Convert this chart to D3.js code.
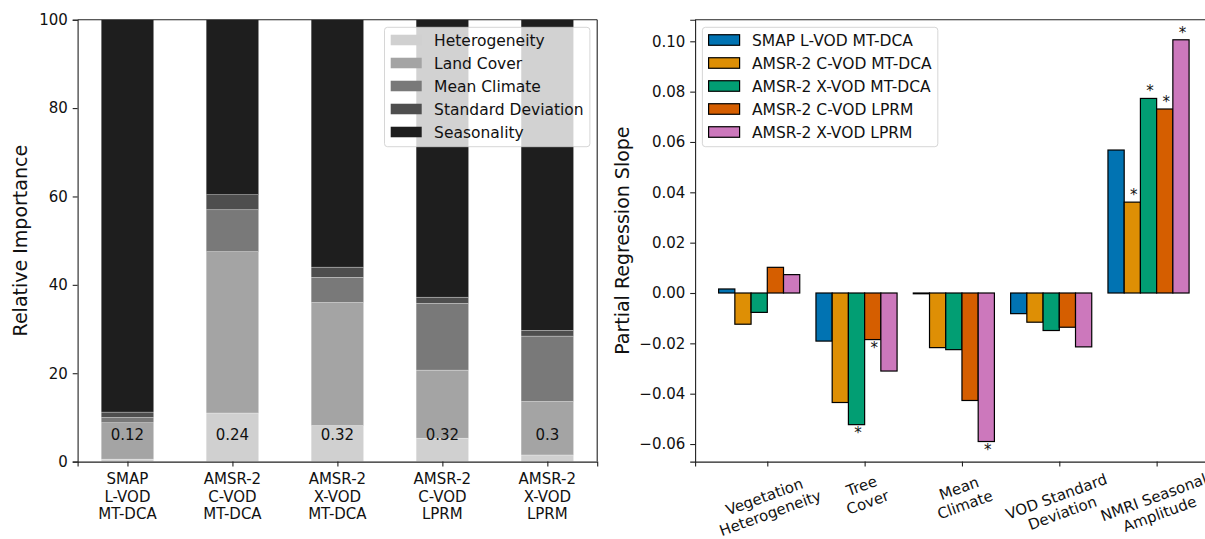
<!DOCTYPE html>
<html>
<head>
<meta charset="utf-8">
<script src="https://cdn.jsdelivr.net/npm/d3@7"></script>
<style>
  html, body { margin: 0; padding: 0; background: #fff; }
  svg { display: block; font-family: "DejaVu Sans", sans-serif; }
</style>
</head>
<body>
<svg id="fig" width="1205" height="539"></svg>
<script>
// ---- Relative importance of each factor group, per VOD product ----
const products = ["SMAP\nL-VOD\nMT-DCA", "AMSR-2\nC-VOD\nMT-DCA", "AMSR-2\nX-VOD\nMT-DCA", "AMSR-2\nC-VOD\nLPRM", "AMSR-2\nX-VOD\nLPRM"];
const factors = ["Heterogeneity", "Land Cover", "Mean Climate", "Standard Deviation", "Seasonality"];
const heterogeneity = [0.55, 11.0, 8.15, 5.3, 1.5];
const landCover     = [8.25, 36.5, 27.85, 15.4, 12.1];
const meanClimate   = [1.2, 9.5, 5.7, 15.1, 14.8];
const standardDev   = [1.2, 3.4, 2.3, 1.4, 1.3];
const seasonality   = [88.8, 39.6, 56.0, 62.8, 70.3];
const r2Scores      = [0.12, 0.24, 0.32, 0.32, 0.3];
const importanceTicks = [0, 20, 40, 60, 80, 100];

// ---- Partial regression slopes per driver, per VOD dataset ----
const drivers = ["Vegetation\nHeterogeneity", "Tree\nCover", "Mean\nClimate", "VOD Standard\nDeviation", "NMRI Seasonal\nAmplitude"];
const datasets = ["SMAP L-VOD MT-DCA", "AMSR-2 C-VOD MT-DCA", "AMSR-2 X-VOD MT-DCA", "AMSR-2 C-VOD LPRM", "AMSR-2 X-VOD LPRM"];
const slopeSmapL     = [0.0016, -0.0191, -0.0003, -0.0082, 0.0568];
const slopeAmsrCMt   = [-0.0124, -0.0435, -0.0217, -0.0116, 0.0361];
const slopeAmsrXMt   = [-0.0077, -0.0523, -0.0225, -0.0149, 0.0773];
const slopeAmsrCLprm = [0.0102, -0.0185, -0.0427, -0.0136, 0.0731];
const slopeAmsrXLprm = [0.0073, -0.0310, -0.0590, -0.0214, 0.1006];
const sigSmapL     = [false, false, false, false, false];
const sigAmsrCMt   = [false, false, false, false, true];
const sigAmsrXMt   = [false, true, false, false, true];
const sigAmsrCLprm = [false, true, false, false, true];
const sigAmsrXLprm = [false, false, true, false, true];
const slopeTicks = [-0.06, -0.04, -0.02, 0.00, 0.02, 0.04, 0.06, 0.08, 0.10];

const greys = ["#d0d0d0", "#a4a4a4", "#797979", "#4e4e4e", "#1e1e1e"];
const palette = ["#0173b2", "#de8f05", "#029e73", "#d55e00", "#cc78bc"];

const FS = 15;            // tick / annotation font size
const LINE = 17.5;        // multi-line label pitch
const LEG_FS = 15.5;      // legend font size
const LABEL_FS = 19;      // axis title size
const svg = d3.select("#fig");

const plotTop = 19.7, plotBottom = 461.6;

function styleAxis(g) {
  g.selectAll("path.domain").attr("stroke", "#222").attr("stroke-width", 1.1);
  g.selectAll(".tick line").attr("stroke", "#222").attr("stroke-width", 1.1);
  g.selectAll(".tick text").attr("fill", "#111").style("font-size", FS + "px")
    .style("font-family", "DejaVu Sans");
}

// ================= Left panel: stacked relative importance =================
const L = { x0: 77.6, x1: 597.2 };
const xL = d3.scaleLinear().domain([-0.475, 4.475]).range([L.x0, L.x1]);
const yL = d3.scaleLinear().domain([0, 100]).range([plotBottom, plotTop]);

const rows = products.map((p, i) => ({
  product: p,
  "Heterogeneity": heterogeneity[i],
  "Land Cover": landCover[i],
  "Mean Climate": meanClimate[i],
  "Standard Deviation": standardDev[i],
  "Seasonality": seasonality[i]
}));
const stacked = d3.stack().keys(factors)(rows);

const left = svg.append("g");
left.append("defs").append("clipPath").attr("id", "clipL")
  .append("rect").attr("x", L.x0).attr("y", plotTop).attr("width", L.x1 - L.x0).attr("height", plotBottom - plotTop);

const barW = xL(0.5) - xL(0);
const layerG = left.append("g").attr("clip-path", "url(#clipL)");
stacked.forEach((layer, k) => {
  layerG.append("g").selectAll("rect").data(layer).join("rect")
    .attr("x", (d, i) => xL(i) - barW / 2)
    .attr("width", barW)
    .attr("y", d => yL(d[1]))
    .attr("height", d => yL(d[0]) - yL(d[1]))
    .attr("fill", greys[k])
    .attr("stroke", "#ffffff").attr("stroke-opacity", 0.45).attr("stroke-width", 0.6);
});

// score labels inside bars
left.append("g").selectAll("text").data(r2Scores).join("text")
  .attr("x", (d, i) => xL(i))
  .attr("y", yL(5))
  .attr("text-anchor", "middle")
  .style("font-size", FS + "px")
  .attr("fill", "#111")
  .text(d => String(d));

// axes
const yAxisL = left.append("g").attr("transform", `translate(${L.x0},0)`)
  .call(d3.axisLeft(yL).tickValues(importanceTicks).tickFormat(d3.format("d")).tickSize(4.9).tickPadding(4.9));
styleAxis(yAxisL);
const xAxisL = left.append("g").attr("transform", `translate(0,${plotBottom})`)
  .call(d3.axisBottom(xL).tickValues(d3.range(products.length)).tickFormat("").tickSize(4.9));
styleAxis(xAxisL);
// frame (top and right spines)
left.append("line").attr("x1", L.x0).attr("x2", L.x1).attr("y1", plotTop).attr("y2", plotTop).attr("stroke", "#222").attr("stroke-width", 1.1);
left.append("line").attr("x1", L.x1).attr("x2", L.x1).attr("y1", plotTop).attr("y2", plotBottom).attr("stroke", "#222").attr("stroke-width", 1.1);

// multi-line product labels
products.forEach((p, i) => {
  const t = left.append("text").attr("text-anchor", "middle").style("font-size", FS + "px").attr("fill", "#111");
  p.split("\n").forEach((line, k) => {
    t.append("tspan").attr("x", xL(i)).attr("y", 484.3 + k * LINE).text(line);
  });
});

// y title
left.append("text")
  .attr("transform", `translate(27,${(plotTop + plotBottom) / 2}) rotate(-90)`)
  .attr("text-anchor", "middle")
  .style("font-size", LABEL_FS + "px").attr("fill", "#111")
  .text("Relative Importance");

// legend box with colour handles
function drawLegend(parent, labels, colors, anchorX, anchorRight, edged) {
  const g = parent.append("g");
  const top = 27.3, bottom = 146.7;
  const rowY = labels.map((_, k) => 40 + k * 23);
  const texts = labels.map((lab, k) => g.append("text")
    .style("font-size", LEG_FS + "px").attr("fill", "#111").attr("y", rowY[k] + 0.36 * LEG_FS).text(lab));
  const maxW = d3.max(texts, t => t.node().getComputedTextLength());
  const pad = 0.4 * LEG_FS, handleW = 2 * LEG_FS, handleH = 0.68 * LEG_FS, gap = 0.8 * LEG_FS;
  const boxW = pad + handleW + gap + maxW + pad;
  const bx = anchorRight ? anchorX - boxW : anchorX;
  g.insert("rect", "text")
    .attr("x", bx).attr("y", top).attr("width", boxW).attr("height", bottom - top)
    .attr("rx", 3).attr("fill", "#ffffff").attr("fill-opacity", 0.8)
    .attr("stroke", "#cccccc").attr("stroke-opacity", 0.8).attr("stroke-width", 1);
  labels.forEach((lab, k) => {
    g.insert("rect", "text")
      .attr("x", bx + pad).attr("y", rowY[k] - handleH / 2)
      .attr("width", handleW).attr("height", handleH)
      .attr("fill", colors[k])
      .attr("stroke", edged ? "#000" : "none").attr("stroke-width", edged ? 1.2 : 0);
    texts[k].attr("x", bx + pad + handleW + gap);
  });
}
drawLegend(left, factors, greys, L.x1 - 7.3, true, false);

// ================= Right panel: grouped partial regression slopes =================
const R = { x0: 695.1, x1: 1212.6 };
const seriesValues = [slopeSmapL, slopeAmsrCMt, slopeAmsrXMt, slopeAmsrCLprm, slopeAmsrXLprm];
const seriesSig = [sigSmapL, sigAmsrCMt, sigAmsrXMt, sigAmsrCLprm, sigAmsrXLprm];
const w = 1 / 6;
const xR = d3.scaleLinear().domain([-0.7417, 4.575]).range([R.x0, R.x1]);
const allVals = seriesValues.flat().concat([0]);
const vmin = d3.min(allVals), vmax = d3.max(allVals);
const vpad = (vmax - vmin) * 0.05;
const yR = d3.scaleLinear().domain([vmin - vpad, vmax + vpad]).range([plotBottom, plotTop]);

const right = svg.append("g");
const bw = xR(w) - xR(0);
seriesValues.forEach((vals, s) => {
  right.append("g").selectAll("rect").data(vals).join("rect")
    .attr("x", (d, i) => xR(i + (s - 3) * w))
    .attr("width", bw)
    .attr("y", d => yR(Math.max(0, d)))
    .attr("height", d => Math.abs(yR(d) - yR(0)))
    .attr("fill", palette[s])
    .attr("stroke", "#000").attr("stroke-width", 1.2);
});

// significance markers
seriesValues.forEach((vals, s) => {
  vals.forEach((v, i) => {
    if (!seriesSig[s][i]) return;
    const cx = xR(i + (s - 3) * w) + bw / 2 + 1.5;
    const yb = v >= 0 ? yR(v) - 2.2 : yR(v) + 13.3;
    right.append("text").attr("x", cx).attr("y", yb)
      .attr("text-anchor", "middle").style("font-size", FS + "px").attr("fill", "#111").text("*");
  });
});

const fmtSlope = v => (v < 0 ? "\u2212" : "") + Math.abs(v).toFixed(2);
const yAxisR = right.append("g").attr("transform", `translate(${R.x0},0)`)
  .call(d3.axisLeft(yR).tickValues(slopeTicks).tickFormat(fmtSlope).tickSize(4.9).tickPadding(4.9));
styleAxis(yAxisR);
const xAxisR = right.append("g").attr("transform", `translate(0,${plotBottom})`)
  .call(d3.axisBottom(xR).tickValues(d3.range(drivers.length)).tickFormat("").tickSize(4.9));
styleAxis(xAxisR);
right.append("line").attr("x1", R.x0).attr("x2", R.x1).attr("y1", plotTop).attr("y2", plotTop).attr("stroke", "#222").attr("stroke-width", 1.1);
right.append("line").attr("x1", R.x1).attr("x2", R.x1).attr("y1", plotTop).attr("y2", plotBottom).attr("stroke", "#222").attr("stroke-width", 1.1);

// rotated driver labels (20 degrees, bounding box centred under tick)
const angle = 20 * Math.PI / 180;
drivers.forEach((lab, i) => {
  const lines = lab.split("\n");
  const g = right.append("g");
  const t = g.append("text").attr("text-anchor", "middle").style("font-size", FS + "px").attr("fill", "#111");
  const spans = lines.map((line, k) => t.append("tspan").attr("x", 0)
    .attr("y", (k - (lines.length - 1) / 2) * LINE + 0.36 * FS).text(line));
  const W = d3.max(spans, sp => sp.node().getComputedTextLength());
  const H = lines.length * LINE - 0.2 * FS;
  const boxH = W * Math.sin(angle) + H * Math.cos(angle);
  const top = plotBottom + 4.9 + 4.9;
  g.attr("transform", `translate(${xR(i)},${top + boxH / 2}) rotate(-20)`);
});

right.append("text")
  .attr("transform", `translate(629,${(plotTop + plotBottom) / 2}) rotate(-90)`)
  .attr("text-anchor", "middle")
  .style("font-size", LABEL_FS + "px").attr("fill", "#111")
  .text("Partial Regression Slope");

drawLegend(right, datasets, palette, R.x0 + 7.3, false, true);
</script>
</body>
</html>
